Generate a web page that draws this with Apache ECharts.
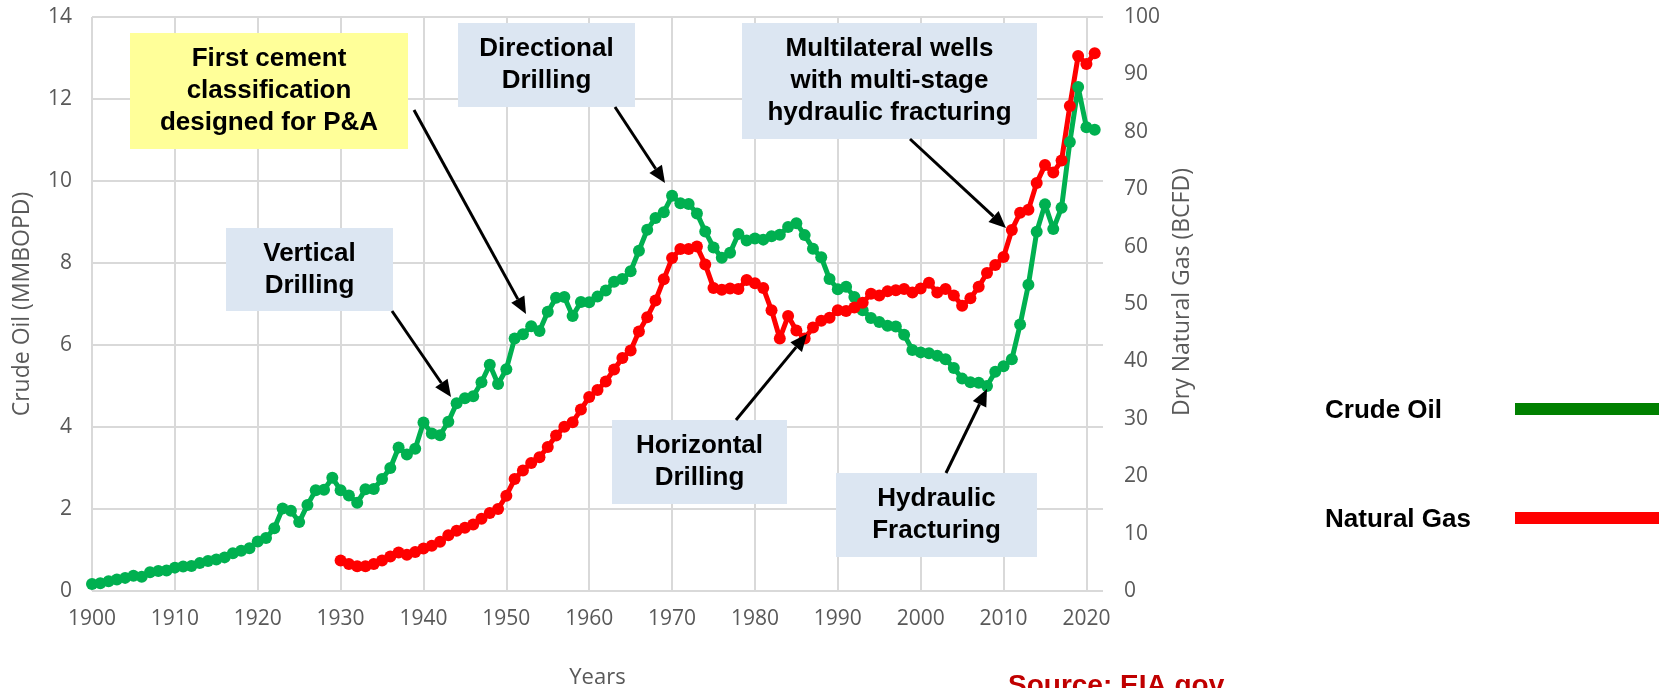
<!DOCTYPE html>
<html>
<head>
<meta charset="utf-8">
<title>US Crude Oil and Natural Gas Production</title>
<script src="https://cdn.jsdelivr.net/npm/echarts@6/dist/echarts.min.js"></script>
<style>
  html, body { margin: 0; padding: 0; background: #fff; }
  #chart { width: 1659px; height: 688px; }
</style>
</head>
<body>
<div id="chart"></div>
<script>
// annual production (EIA)
const oilStartYear = 1900;
// crude oil, MMBOPD, 1900-2021
const crudeOil = [
  0.17, 0.19, 0.24, 0.28, 0.32, 0.37, 0.35, 0.46, 0.49, 0.50,
  0.57, 0.60, 0.61, 0.68, 0.73, 0.77, 0.82, 0.92, 0.98, 1.04,
  1.21, 1.29, 1.53, 2.01, 1.96, 1.68, 2.10, 2.46, 2.47, 2.76,
  2.46, 2.33, 2.15, 2.48, 2.49, 2.73, 3.00, 3.50, 3.33, 3.47,
  4.11, 3.84, 3.80, 4.13, 4.58, 4.70, 4.75, 5.09, 5.52, 5.05,
  5.41, 6.16, 6.26, 6.46, 6.34, 6.81, 7.15, 7.17, 6.71, 7.05,
  7.04, 7.18, 7.33, 7.54, 7.61, 7.80, 8.30, 8.81, 9.10, 9.24,
  9.64, 9.46, 9.44, 9.21, 8.77, 8.38, 8.13, 8.25, 8.71, 8.55,
  8.60, 8.57, 8.65, 8.69, 8.88, 8.97, 8.68, 8.35, 8.14, 7.61,
  7.36, 7.42, 7.17, 6.85, 6.66, 6.56, 6.47, 6.45, 6.25, 5.88,
  5.82, 5.80, 5.74, 5.65, 5.44, 5.18, 5.09, 5.08, 5.00, 5.35,
  5.48, 5.65, 6.50, 7.47, 8.76, 9.43, 8.83, 9.35, 10.95, 12.29,
  11.31, 11.25
];

const gasStartYear = 1930;
// dry natural gas, BCFD, 1930-2021
const naturalGas = [
  5.3, 4.7, 4.3, 4.3, 4.7, 5.3, 6.0, 6.7, 6.3, 6.8,
  7.4, 7.9, 8.6, 9.7, 10.5, 11.0, 11.6, 12.6, 13.6, 14.3,
  16.6, 19.5, 21.0, 22.3, 23.3, 25.1, 27.1, 28.6, 29.4, 31.6,
  33.8, 35.0, 36.5, 38.6, 40.6, 41.9, 45.2, 47.7, 50.6, 54.3,
  58.0, 59.6, 59.6, 60.0, 56.9, 52.8, 52.5, 52.7, 52.6, 54.2,
  53.6, 52.8, 48.9, 44.0, 47.9, 45.4, 44.0, 45.9, 47.1, 47.6,
  48.9, 48.8, 49.4, 50.2, 51.8, 51.5, 52.2, 52.4, 52.6, 52.0,
  52.7, 53.7, 52.0, 52.6, 51.5, 49.7, 51.0, 53.0, 55.4, 56.8,
  58.2, 62.9, 65.9, 66.4, 71.1, 74.2, 72.9, 75.0, 84.5, 93.2,
  91.8, 93.7
];

const seriesNames = ['Crude Oil', 'Natural Gas'];

// callout boxes: text, box [x, y, w, h], fill, arrow [x1, y1, tipX, tipY]
const notes = [
  { text: 'First cement\nclassification\ndesigned for P&A', box: [130, 33, 278, 116], fill: '#FFFF99', arrow: [414, 110, 526, 314] },
  { text: 'Directional\nDrilling', box: [458, 23, 177, 84], fill: '#DCE6F2', arrow: [615, 107, 665, 183] },
  { text: 'Multilateral wells\nwith multi-stage\nhydraulic fracturing', box: [742, 23, 295, 116], fill: '#DCE6F2', arrow: [910, 139, 1006, 228] },
  { text: 'Vertical\nDrilling', box: [226, 228, 167, 83], fill: '#DCE6F2', arrow: [392, 311, 451, 397] },
  { text: 'Horizontal\nDrilling', box: [612, 420, 175, 84], fill: '#DCE6F2', arrow: [736, 420, 807, 334] },
  { text: 'Hydraulic\nFracturing', box: [836, 473, 201, 84], fill: '#DCE6F2', arrow: [946, 473, 987, 389] }
];

const toPairs = (start, values) => values.map((v, i) => [start + i, v]);

const boldFont = 'bold 26px "Liberation Sans", Arial, sans-serif';
const axisFont = '"Open Sans", "Noto Sans", sans-serif';

function arrowParts(x1, y1, x2, y2) {
  const len = 17, half = 7.5;
  const a = Math.atan2(y2 - y1, x2 - x1);
  const bx = x2 - len * Math.cos(a), by = y2 - len * Math.sin(a);
  const nx = -Math.sin(a) * half, ny = Math.cos(a) * half;
  return [
    { type: 'line', z: 102, shape: { x1: x1, y1: y1, x2: bx, y2: by }, style: { stroke: '#000', lineWidth: 3 } },
    { type: 'polygon', z: 102, shape: { points: [[x2, y2], [bx + nx, by + ny], [bx - nx, by - ny]] }, style: { fill: '#000' } }
  ];
}

const graphics = [];
notes.forEach(n => {
  const [x, y, w, h] = n.box;
  graphics.push({ type: 'rect', z: 100, shape: { x: x, y: y, width: w, height: h }, style: { fill: n.fill } });
  graphics.push({
    type: 'text', z: 101, x: x + w / 2, y: y + h / 2,
    style: {
      text: n.text, font: boldFont, fill: '#000', lineHeight: 32,
      align: 'center', verticalAlign: 'middle', textAlign: 'center', textVerticalAlign: 'middle'
    }
  });
  graphics.push(...arrowParts(...n.arrow));
});

// legend on the right, drawn by hand (text then bar)
const legendRows = [
  { name: seriesNames[0], y: 409, color: '#008000' },
  { name: seriesNames[1], y: 518, color: '#FF0000' }
];
legendRows.forEach(r => {
  graphics.push({
    type: 'text', z: 101, x: 1325, y: r.y + 2,
    style: { text: r.name, font: boldFont, fill: '#000', align: 'left', verticalAlign: 'middle', textAlign: 'left', textVerticalAlign: 'middle' }
  });
  graphics.push({ type: 'rect', z: 100, shape: { x: 1515, y: r.y - 6, width: 150, height: 12 }, style: { fill: r.color } });
});

graphics.push({
  type: 'text', z: 101, x: 1008, y: 672,
  style: { text: 'Source: EIA.gov', font: 'bold 28px "Liberation Sans", Arial, sans-serif', fill: '#C00000', align: 'left', verticalAlign: 'top', textAlign: 'left', textVerticalAlign: 'top' }
});

const chart = echarts.init(document.getElementById('chart'));

const option = {
  animation: false,
  backgroundColor: '#ffffff',
  grid: { left: 92, right: 556, top: 17, bottom: 97, containLabel: false, outerBoundsMode: 'none' },
  xAxis: {
    type: 'value',
    min: 1900,
    max: 2022,
    interval: 10,
    name: 'Years',
    nameLocation: 'middle',
    nameGap: 76,
    nameTextStyle: { color: '#595959', fontSize: 22, fontFamily: axisFont },
    axisLine: { show: false },
    axisTick: { show: false },
    axisLabel: {
      color: '#595959', fontSize: 21, fontFamily: axisFont, margin: 18, showMaxLabel: false,
      formatter: v => String(v)
    },
    splitLine: { show: true, showMaxLine: false, lineStyle: { color: '#D9D9D9', width: 2 } }
  },
  yAxis: [
    {
      type: 'value',
      min: 0,
      max: 14,
      interval: 2,
      name: 'Crude Oil (MMBOPD)',
      nameLocation: 'middle',
      nameRotate: 90,
      nameGap: 58,
      nameTextStyle: { color: '#595959', fontSize: 23, fontFamily: axisFont },
      axisLine: { show: false },
      axisTick: { show: false },
      axisLabel: { color: '#595959', fontSize: 21, fontFamily: axisFont, margin: 20 },
      splitLine: { show: true, lineStyle: { color: '#D9D9D9', width: 2 } }
    },
    {
      type: 'value',
      min: 0,
      max: 100,
      interval: 10,
      position: 'right',
      name: 'Dry Natural Gas (BCFD)',
      nameLocation: 'middle',
      nameRotate: 90,
      nameGap: 68,
      nameTextStyle: { color: '#595959', fontSize: 23, fontFamily: axisFont, padding: [0, 0, 0, 24] },
      axisLine: { show: false },
      axisTick: { show: false },
      axisLabel: { color: '#595959', fontSize: 21, fontFamily: axisFont, margin: 21 },
      splitLine: { show: false }
    }
  ],
  series: [
    {
      name: seriesNames[0],
      type: 'line',
      yAxisIndex: 0,
      data: toPairs(oilStartYear, crudeOil),
      symbol: 'circle',
      symbolSize: 12,
      lineStyle: { color: '#00B050', width: 5 },
      itemStyle: { color: '#00B050' },
      emphasis: { disabled: true }
    },
    {
      name: seriesNames[1],
      type: 'line',
      yAxisIndex: 1,
      data: toPairs(gasStartYear, naturalGas),
      symbol: 'circle',
      symbolSize: 12,
      lineStyle: { color: '#FF0000', width: 5 },
      itemStyle: { color: '#FF0000' },
      emphasis: { disabled: true }
    }
  ],
  graphic: graphics
};

chart.setOption(option);

window.addEventListener('resize', () => chart.resize());
</script>
</body>
</html>
